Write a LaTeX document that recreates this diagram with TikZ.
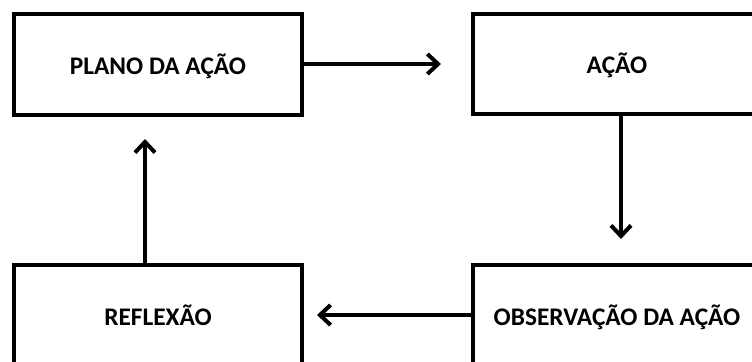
\documentclass[tikz,border=0pt]{standalone}
\usepackage{fontspec}
\setmainfont{Carlito}
\usetikzlibrary{arrows.meta}
\tikzset{
  stage/.style={draw=black, line width=3pt, fill=white, minimum width=216pt,
    minimum height=76pt, inner sep=0pt, font=\fontsize{19}{22}\selectfont\bfseries,
    text height=17.5pt, text depth=3pt},
  flow/.style={line width=3pt, -{Straight Barb[length=8pt,width=15pt,line width=3pt]}}
}
\begin{document}
\begin{tikzpicture}[x=0.75pt, y=-0.75pt]
  \useasboundingbox (0,0) rectangle (752,361);
  \clip (0,0) rectangle (752,361);
  \fill[white] (0,0) rectangle (752,361);
  % the four stages of the cycle
  \node[stage] (plano) at (158,64.5) {PLANO DA AÇÃO};
  \node[stage, minimum height=75pt] (acao) at (617,64) {AÇÃO};
  \node[stage] (obs) at (617,316) {OBSERVAÇÃO DA AÇÃO};
  \node[stage] (refl) at (158,316) {REFLEXÃO};
  % arrow tips
  \coordinate (t1) at (441,64);
  \coordinate (t2) at (621,239);
  \coordinate (t3) at (317,315);
  \coordinate (t4) at (145,139);
  % connectors
  \draw[flow] (plano.east |- t1) -- (t1);
  \draw[flow] (acao.south -| t2) -- (t2);
  \draw[flow] (obs.west |- t3) -- (t3);
  \draw[flow] (refl.north -| t4) -- (t4);
\end{tikzpicture}
\end{document}
